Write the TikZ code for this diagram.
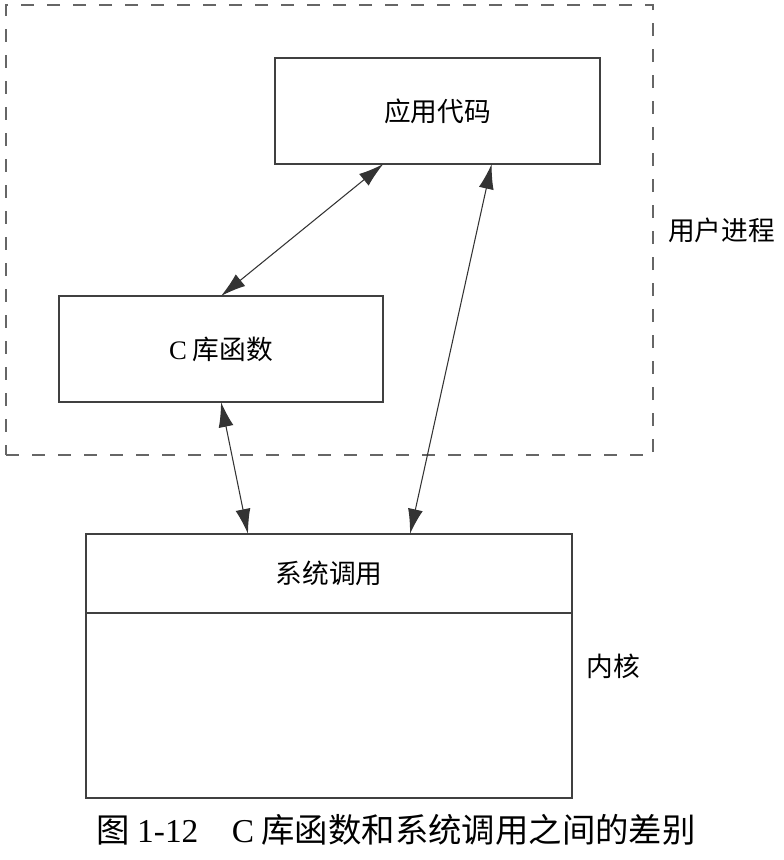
\documentclass[tikz,border=0pt]{standalone}
\usepackage{fontspec}
\setmainfont{Liberation Serif}
\newfontfamily\cjk{Noto Sans CJK SC}
\usetikzlibrary{positioning,arrows.meta,calc,fit}
\newcommand{\lblfont}{\fontsize{15.2}{18}\selectfont\cjk}
\newcommand{\capfont}{\fontsize{19}{22}\selectfont\cjk}
\tikzset{
  box/.style={draw=black!75,line width=0.6pt,inner sep=0pt,outer sep=0pt,align=center,font=\lblfont},
  proc/.style={draw=black!60,line width=0.6pt,dash pattern=on 2.6mm off 2.6mm,inner sep=1.06cm},
  lbl/.style={font=\lblfont},
  arr/.style={{Latex[length=5mm,width=3mm]}-{Latex[length=5mm,width=3mm]},line width=0.6pt,draw=black!80},
}
\begin{document}
\begin{tikzpicture}
\useasboundingbox (0,0) rectangle (15.68,-17.2);
\node[box, minimum width=6.5cm, minimum height=2.12cm] (app) at (8.75,-2.22) {应用代码};
\node[box, minimum width=6.48cm, minimum height=2.12cm] (lib) at (4.42,-6.98) {{\rmfamily C} 库函数};
\node[proc, fit=(app)(lib)] (user) {};
\node[lbl, right=1.7mm of user] (userlbl) {用户进程};
\node[box, minimum width=9.72cm, minimum height=1.58cm] (sys) at (6.58,-11.47) {系统调用};
\node[box, minimum width=9.72cm, minimum height=3.7cm, below=0pt of sys] (kern) {};
\coordinate (kmid) at ($(sys.north east)!0.5!(kern.south east)$);
\node[lbl, right=1.7mm of kmid] (kernlbl) {内核};
\draw[arr] (lib.north) -- ($(app.south west)!1/3!(app.south east)$);
\draw[arr] ($(app.south west)!2/3!(app.south east)$) -- ($(sys.north west)!2/3!(sys.north east)$);
\draw[arr] (lib.south) -- ($(sys.north west)!1/3!(sys.north east)$);
\node[font=\capfont] (caption) at (7.92,-16.6) {图 {\rmfamily 1-12}\hspace{1em}{\rmfamily C} 库函数和系统调用之间的差别};
\end{tikzpicture}
\end{document}
